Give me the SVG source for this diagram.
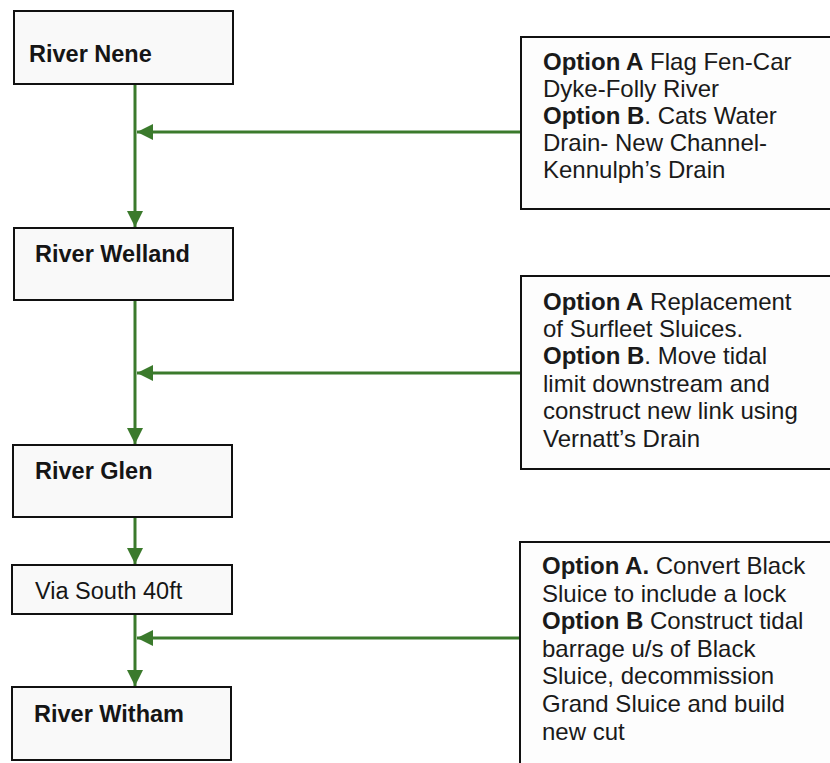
<svg xmlns="http://www.w3.org/2000/svg" width="830" height="763" viewBox="0 0 830 763">
<style>
.node{fill:#f9f9f9;stroke:#111;stroke-width:2}
.opt{fill:#fdfdfd;stroke:#111;stroke-width:2}
.lbl{font-family:"Liberation Sans",Arial,sans-serif;font-size:23.5px;font-weight:bold;fill:#151515}
.lblr{font-family:"Liberation Sans",Arial,sans-serif;font-size:23.5px;fill:#151515}
.txt{font-family:"Liberation Sans",Arial,sans-serif;font-size:24px;fill:#1a1a1a}
.b{font-weight:bold}
.conn{stroke:#3b7a2c;stroke-width:3;fill:none}
</style>
<defs>
<marker id="ah" markerUnits="userSpaceOnUse" markerWidth="18" markerHeight="18" refX="16" refY="8" orient="auto">
<path d="M0,0 L16,8 L0,16 Z" fill="#3b7a2c"/>
</marker>
</defs>
<rect width="830" height="763" fill="#ffffff"/>
<g id="connectors">
<line class="conn" x1="135" y1="85" x2="135" y2="227" marker-end="url(#ah)"/>
<line class="conn" x1="521" y1="132" x2="137" y2="132" marker-end="url(#ah)"/>
<line class="conn" x1="135" y1="301" x2="135" y2="444" marker-end="url(#ah)"/>
<line class="conn" x1="521" y1="373" x2="137" y2="373" marker-end="url(#ah)"/>
<line class="conn" x1="135" y1="518" x2="135" y2="564" marker-end="url(#ah)"/>
<line class="conn" x1="135" y1="615" x2="135" y2="686" marker-end="url(#ah)"/>
<line class="conn" x1="521" y1="638" x2="137" y2="638" marker-end="url(#ah)"/>
</g>
<g id="river-nene">
<rect class="node" x="14" y="11" width="219" height="73"/>
<text class="lbl" x="29" y="62">River Nene</text>
</g>
<g id="river-welland">
<rect class="node" x="14" y="228" width="219" height="72"/>
<text class="lbl" x="35" y="262">River Welland</text>
</g>
<g id="river-glen">
<rect class="node" x="13" y="445" width="219" height="72"/>
<text class="lbl" x="35" y="479">River Glen</text>
</g>
<g id="via-south-40ft">
<rect class="node" x="12" y="565" width="220" height="49"/>
<text class="lblr" x="35" y="599">Via South 40ft</text>
</g>
<g id="river-witham">
<rect class="node" x="12" y="687" width="219" height="73"/>
<text class="lbl" x="34" y="722">River Witham</text>
</g>
<g id="option-nene-welland">
<rect class="opt" x="521" y="37" width="320" height="172"/>
<text class="txt" x="543" y="70"><tspan class="b">Option A</tspan> Flag Fen-Car</text>
<text class="txt" x="543" y="97">Dyke-Folly River</text>
<text class="txt" x="543" y="124"><tspan class="b">Option B</tspan>. Cats Water</text>
<text class="txt" x="543" y="151">Drain- New Channel-</text>
<text class="txt" x="543" y="178">Kennulph’s Drain</text>
</g>
<g id="option-welland-glen">
<rect class="opt" x="521" y="276" width="320" height="193"/>
<text class="txt" x="543" y="310"><tspan class="b">Option A</tspan> Replacement</text>
<text class="txt" x="543" y="337">of Surfleet Sluices.</text>
<text class="txt" x="543" y="364"><tspan class="b">Option B</tspan>. Move tidal</text>
<text class="txt" x="543" y="392">limit downstream and</text>
<text class="txt" x="543" y="419">construct new link using</text>
<text class="txt" x="543" y="447">Vernatt’s Drain</text>
</g>
<g id="option-south40ft-witham">
<rect class="opt" x="520" y="542" width="320" height="240"/>
<text class="txt" x="542" y="574"><tspan class="b">Option A.</tspan> Convert Black</text>
<text class="txt" x="542" y="602">Sluice to include a lock</text>
<text class="txt" x="542" y="629"><tspan class="b">Option B</tspan> Construct tidal</text>
<text class="txt" x="542" y="657">barrage u/s of Black</text>
<text class="txt" x="542" y="684">Sluice, decommission</text>
<text class="txt" x="542" y="712">Grand Sluice and build</text>
<text class="txt" x="542" y="740">new cut</text>
</g>
</svg>
